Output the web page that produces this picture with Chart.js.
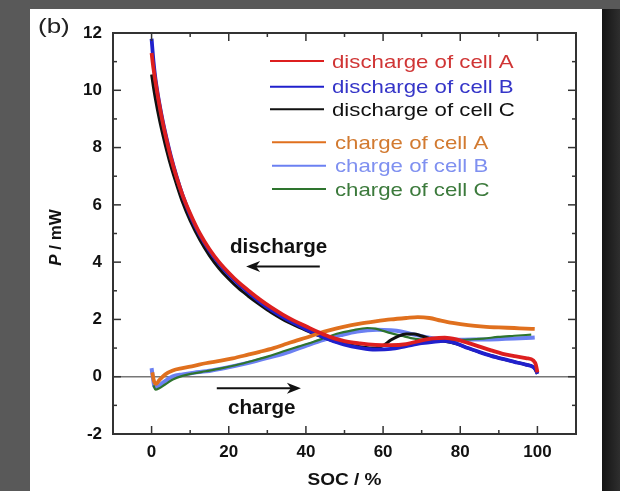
<!DOCTYPE html>
<html>
<head>
<meta charset="utf-8">
<script src="https://cdn.jsdelivr.net/npm/chart.js@4.4.1/dist/chart.umd.min.js"></script>
<style>
  html, body { margin: 0; padding: 0; width: 620px; height: 491px; overflow: hidden; background: #595959; }
  #panel { position: absolute; left: 30px; top: 9px; width: 572px; height: 482px; background: #fff; }
  #shade { position: absolute; left: 602px; top: 9px; width: 18px; height: 482px; background: linear-gradient(to right, #141414, #2e2e2e); }
  #wrap { position: absolute; left: 0; top: 0; width: 620px; height: 491px; }
</style>
</head>
<body>
<div id="panel"></div>
<div id="shade"></div>
<div id="wrap"><canvas id="c" width="620" height="491"></canvas></div>
<script>
// SOC (%) and power P (mW)
const socDisA = [0, 0.5, 1, 2, 3, 4, 5, 6.5, 8, 10, 12.5, 15, 17.5, 20, 22.5, 25, 28, 31, 34, 37, 40, 43, 46, 50, 54, 58, 62, 66, 70, 73, 76, 79, 82, 85, 88, 91, 94, 97, 99, 99.6, 100];
const pDisA   = [11.3, 10.75, 10.3, 9.5, 8.8, 8.2, 7.65, 6.95, 6.35, 5.7, 5.0, 4.45, 4.0, 3.63, 3.3, 3.02, 2.7, 2.42, 2.17, 1.95, 1.76, 1.57, 1.4, 1.24, 1.16, 1.11, 1.1, 1.14, 1.27, 1.34, 1.36, 1.3, 1.18, 1.05, 0.92, 0.8, 0.72, 0.65, 0.56, 0.42, 0.15];

const socDisB = [0, 0.5, 1, 2, 3, 4, 5, 6.5, 8, 10, 12.5, 15, 17.5, 20, 22.5, 25, 28, 31, 34, 37, 40, 43, 46, 50, 54, 58, 62, 66, 70, 73, 76, 79, 82, 85, 88, 91, 94, 97, 99, 99.6, 100];
const pDisB   = [11.8, 11.0, 10.4, 9.55, 8.85, 8.25, 7.7, 6.98, 6.35, 5.65, 4.95, 4.4, 3.95, 3.57, 3.24, 2.95, 2.62, 2.33, 2.08, 1.86, 1.66, 1.47, 1.3, 1.12, 1.01, 0.95, 0.97, 1.07, 1.17, 1.22, 1.25, 1.16, 1.0, 0.86, 0.73, 0.62, 0.52, 0.42, 0.33, 0.24, 0.1];

const socDisC = [0, 0.5, 1, 2, 3, 4, 5, 6.5, 8, 10, 12.5, 15, 17.5, 20, 22.5, 25, 28, 31, 34, 37, 40, 43, 46, 50, 54, 58, 60, 62, 64, 66, 68, 70, 73, 76, 79, 82, 85, 88, 91, 94, 97, 99, 100];
const pDisC   = [10.55, 10.1, 9.7, 9.0, 8.4, 7.85, 7.35, 6.7, 6.1, 5.45, 4.78, 4.23, 3.78, 3.41, 3.09, 2.82, 2.52, 2.24, 2.0, 1.8, 1.62, 1.45, 1.3, 1.14, 1.05, 1.0, 1.08, 1.28, 1.42, 1.49, 1.49, 1.42, 1.3, 1.24, 1.15, 1.0, 0.86, 0.73, 0.62, 0.52, 0.42, 0.33, 0.1];

const socChA = [0.2, 0.6, 1.2, 2, 3.5, 5.5, 8, 11, 14, 18, 21, 25, 28, 31.6, 35, 37.7, 40, 43, 46, 50, 54, 58, 62, 66, 69, 72, 75, 78, 82, 86, 90, 94, 97, 99.3];
const pChA   = [0.15, -0.15, -0.25, -0.12, 0.08, 0.22, 0.3, 0.38, 0.47, 0.56, 0.64, 0.77, 0.87, 1.0, 1.15, 1.27, 1.36, 1.5, 1.62, 1.75, 1.85, 1.93, 2.0, 2.05, 2.08, 2.05, 1.96, 1.88, 1.8, 1.75, 1.72, 1.7, 1.68, 1.67];

const socChB = [0, 0.3, 0.8, 1.5, 3, 5.5, 8, 11, 14.2, 18, 22.9, 27, 31.6, 35.9, 40, 44.6, 49, 53.3, 58.5, 62, 64.6, 67, 70.6, 74, 77.6, 81, 85, 89.8, 94, 97, 99.3];
const pChB   = [0.3, 0.0, -0.35, -0.35, -0.2, 0.01, 0.08, 0.14, 0.19, 0.28, 0.42, 0.55, 0.71, 0.88, 1.08, 1.29, 1.45, 1.58, 1.64, 1.62, 1.58, 1.5, 1.4, 1.33, 1.29, 1.29, 1.3, 1.31, 1.33, 1.35, 1.37];

const socChC = [0.5, 1, 2, 3.5, 5.5, 8, 11, 14, 18, 22, 26, 30, 34, 38, 42, 44.6, 48, 52, 55.9, 58, 60, 62, 65, 67.2, 70, 74, 78, 82, 86, 89.8, 94, 98.4];
const pChC   = [-0.3, -0.45, -0.4, -0.27, -0.1, 0.03, 0.12, 0.19, 0.29, 0.41, 0.55, 0.7, 0.88, 1.05, 1.22, 1.34, 1.5, 1.62, 1.7, 1.68, 1.6, 1.52, 1.42, 1.35, 1.3, 1.27, 1.27, 1.3, 1.33, 1.39, 1.43, 1.47];

const seriesLabels = ['discharge of cell A', 'discharge of cell B', 'discharge of cell C',
                      'charge of cell A', 'charge of cell B', 'charge of cell C'];
const xTicks = [0, 20, 40, 60, 80, 100];

const FONT = '"Liberation Sans", Arial, sans-serif';

function series(label, xs, ys, color, width, order) {
  return {
    label, order, borderColor: color, borderWidth: width,
    data: xs.map((x, i) => ({ x, y: ys[i] })),
    pointRadius: 0, fill: false, cubicInterpolationMode: 'monotone'
  };
}

function txt(ctx, s, x, y, font, color, sx, align) {
  ctx.save();
  ctx.font = font;
  ctx.fillStyle = color;
  ctx.textAlign = align || 'left';
  ctx.textBaseline = 'alphabetic';
  ctx.translate(x, y);
  ctx.scale(sx || 1, 1);
  ctx.fillText(s, 0, 0);
  ctx.restore();
}

function arrow(ctx, x0, x1, y, dir) {
  ctx.save();
  ctx.strokeStyle = '#111'; ctx.fillStyle = '#111'; ctx.lineWidth = 2;
  ctx.beginPath(); ctx.moveTo(x0, y); ctx.lineTo(x1 - dir * 6, y); ctx.stroke();
  ctx.beginPath();
  ctx.moveTo(x1, y);
  ctx.lineTo(x1 - dir * 14, y - 5.5);
  ctx.lineTo(x1 - dir * 10, y);
  ctx.lineTo(x1 - dir * 14, y + 5.5);
  ctx.closePath(); ctx.fill();
  ctx.restore();
}

const legendText = ['#d03535', '#3535c8', '#111111', '#d27a30', '#7f90f0', '#3c7a3c'];
const legendRowY = [61, 86.7, 109.3, 142.3, 165.7, 189];

const decor = {
  id: 'decor',
  afterDraw(chart) {
    const { ctx, chartArea: a, scales: { x, y } } = chart;
    ctx.save();
    ctx.strokeStyle = '#333';
    ctx.lineWidth = 1.5;
    const seg = (x0, y0, x1, y1) => { ctx.beginPath(); ctx.moveTo(x0, y0); ctx.lineTo(x1, y1); ctx.stroke(); };
    for (let v = 0; v <= 100; v += 10) {
      const px = x.getPixelForValue(v);
      const len = v % 20 === 0 ? 8 : 4;
      seg(px, a.bottom, px, a.bottom - len);
      seg(px, a.top, px, a.top + len);
    }
    for (let v = -1; v <= 11; v++) {
      const py = y.getPixelForValue(v);
      const len = v % 2 === 0 ? 8 : 4;
      seg(a.left, py, a.left + len, py);
      seg(a.right, py, a.right - len, py);
    }
    ctx.lineWidth = 2;
    ctx.strokeRect(a.left, a.top, a.right - a.left, a.bottom - a.top);
    ctx.restore();

    // legend inside the plot
    chart.data.datasets.forEach((d, i) => {
      const ly = legendRowY[i];
      const x0 = i < 3 ? 270 : 272;
      ctx.save();
      ctx.strokeStyle = d.borderColor; ctx.lineWidth = 2;
      ctx.beginPath(); ctx.moveTo(x0, ly); ctx.lineTo(x0 + 54, ly); ctx.stroke();
      ctx.restore();
      txt(ctx, d.label, i < 3 ? 332 : 335, ly + 6.5, '19px ' + FONT, legendText[i], 1.17);
    });

    // annotations
    txt(ctx, 'discharge', x.getPixelForValue(20.3), y.getPixelForValue(4.33), 'bold 20px ' + FONT, '#111', 1.03);
    arrow(ctx, x.getPixelForValue(43.6), x.getPixelForValue(24.5), y.getPixelForValue(3.85), -1);
    txt(ctx, 'charge', x.getPixelForValue(19.8), y.getPixelForValue(-1.3), 'bold 20px ' + FONT, '#111', 1.03);
    arrow(ctx, x.getPixelForValue(16.9), x.getPixelForValue(38.7), y.getPixelForValue(-0.4), 1);

    // panel label and axis titles
    txt(ctx, '(b)', 38, 33, '20px ' + FONT, '#222', 1.3);
    txt(ctx, 'SOC / %', (a.left + a.right) / 2, 485, 'bold 17px ' + FONT, '#111', 1.12, 'center');

    ctx.save();
    ctx.translate(61, (a.top + a.bottom) / 2 + 4);
    ctx.rotate(-Math.PI / 2);
    ctx.fillStyle = '#111';
    ctx.textBaseline = 'alphabetic';
    ctx.font = 'italic bold 17px ' + FONT;
    const wP = ctx.measureText('P').width;
    ctx.font = 'bold 17px ' + FONT;
    const wRest = ctx.measureText(' / mW').width;
    const start = -(wP + wRest) / 2;
    ctx.font = 'italic bold 17px ' + FONT;
    ctx.fillText('P', start, 0);
    ctx.font = 'bold 17px ' + FONT;
    ctx.fillText(' / mW', start + wP, 0);
    ctx.restore();
  }
};

const tickFont = { family: FONT, size: 17, weight: 'bold' };

new Chart(document.getElementById('c'), {
  type: 'line',
  data: {
    datasets: [
      series(seriesLabels[0], socDisA, pDisA, '#dd1f1f', 3.8, 0),
      series(seriesLabels[1], socDisB, pDisB, '#2020cc', 3.8, 2),
      series(seriesLabels[2], socDisC, pDisC, '#111111', 3, 3),
      series(seriesLabels[3], socChA, pChA, '#e0701e', 3.8, 1),
      series(seriesLabels[4], socChB, pChB, '#6b80f2', 4, 5),
      series(seriesLabels[5], socChC, pChC, '#2e742e', 2.2, 4)
    ]
  },
  options: {
    responsive: false,
    animation: false,
    layout: { padding: { left: 0, right: 44, top: 33, bottom: 0 } },
    plugins: { legend: { display: false }, tooltip: { enabled: false } },
    scales: {
      x: {
        type: 'linear', min: -10, max: 110,
        afterFit(s) { s.height = 57; },
        border: { display: false },
        grid: { display: false, drawTicks: false },
        afterBuildTicks(s) { s.ticks = [-10].concat(xTicks, [110]).map(v => ({ value: v })); },
        ticks: {
          autoSkip: false, maxRotation: 0, padding: 8, color: '#111', font: tickFont,
          callback: v => xTicks.includes(v) ? String(v) : ''
        }
      },
      y: {
        min: -2, max: 12,
        afterFit(s) { s.width = 113; },
        border: { display: false },
        grid: {
          drawTicks: false, lineWidth: 1.5,
          color: c => (c.tick && c.tick.value === 0) ? '#777777' : 'rgba(0,0,0,0)'
        },
        ticks: { stepSize: 2, padding: 11, color: '#111', font: tickFont }
      }
    }
  },
  plugins: [decor]
});
</script>
</body>
</html>
